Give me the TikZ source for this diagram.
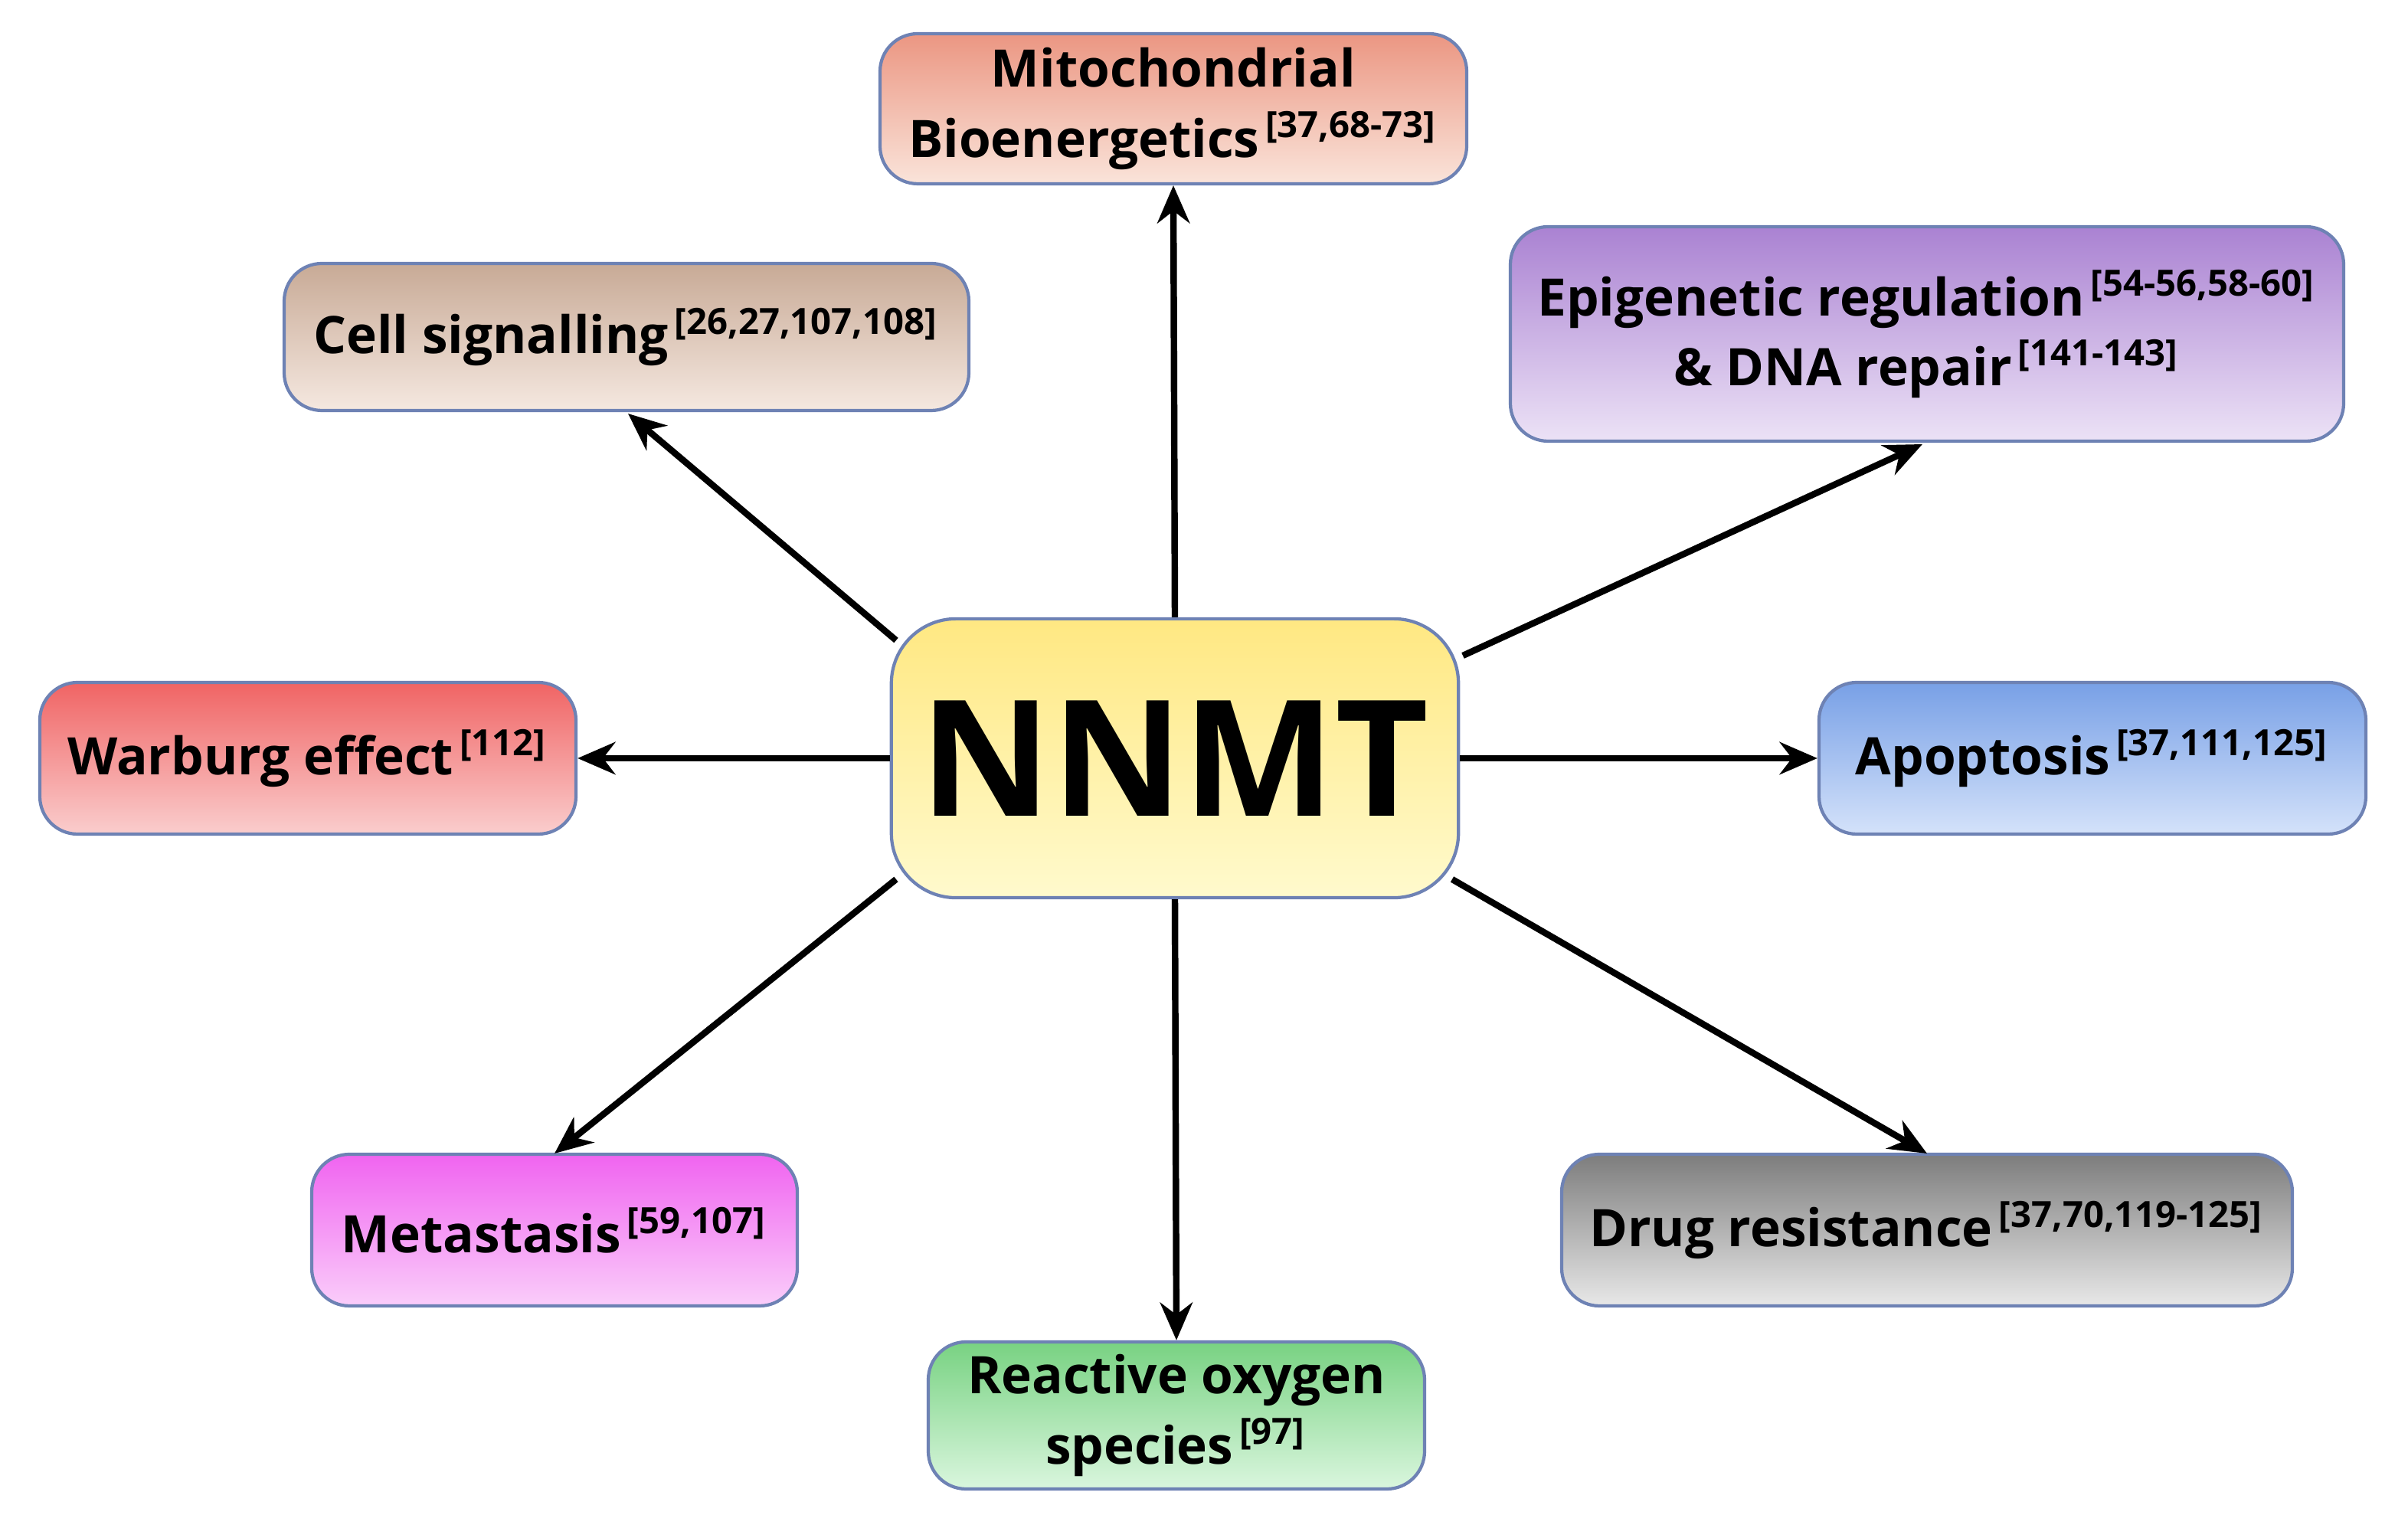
\documentclass[tikz,border=0pt]{standalone}
\usepackage{fontspec}
\setmainfont{Open Sans}
\usetikzlibrary{arrows.meta}
\newcommand{\rf}[1]{\textsuperscript{\,#1}}
\begin{document}
\begin{tikzpicture}[x=0.01cm,y=-0.01cm,
 box/.style={draw={rgb,255:red,110;green,130;blue,180},line width=0.6pt,rounded corners=7pt,align=center,font=\bfseries\fontsize{9.6}{13}\selectfont,inner sep=0pt},
 arr/.style={line width=1.2pt,-{Stealth[length=7pt,width=6pt]}}]
\useasboundingbox (0,0) rectangle (1572,1004);
\newcommand{\bx}[9]{\node[box,minimum width=#3*0.01cm,minimum height=#4*0.01cm,top color={rgb,255:red,#5},bottom color={rgb,255:red,#6}] (#7) at (#1,#2) {#8};}
\bx{766}{71}{383}{98}{235;green,150;blue,130}{250;green,228;blue,218}{mito}{Mitochondrial\\Bioenergetics\rf{[37,68-73]}}{}
\bx{409}{220}{447}{96}{200;green,170;blue,150}{245;green,232;blue,224}{cell}{Cell signalling\rf{[26,27,107,108]}}{}
\bx{1258}{218}{544}{140}{170;green,130;blue,210}{236;green,226;blue,246}{epi}{Epigenetic regulation\rf{[54-56,58-60]}\\\& DNA repair\rf{[141-143]}}{}
\bx{201}{495}{350}{99}{240;green,100;blue,100}{250;green,205;blue,205}{war}{Warburg effect\rf{[112]}}{}
\bx{1366}{495}{357}{99}{120;green,160;blue,230}{212;green,226;blue,250}{apo}{Apoptosis\rf{[37,111,125]}}{}
\bx{362}{803}{317}{99}{240;green,100;blue,240}{250;green,205;blue,250}{met}{Metastasis\rf{[59,107]}}{}
\bx{768}{924}{324}{96}{120;green,210;blue,130}{218;green,246;blue,222}{ros}{Reactive oxygen\\species\rf{[97]}}{}
\bx{1258}{803}{477}{99}{125;green,125;blue,125}{232;green,232;blue,232}{drug}{Drug resistance\rf{[37,70,119-125]}}{}
\node[box,rounded corners=12pt,minimum width=3.7cm,minimum height=1.82cm,top color={rgb,255:red,255;green,232;blue,130},bottom color={rgb,255:red,255;green,250;blue,205},font=\bfseries\fontsize{30}{36}\selectfont] (n) at (767,495) {NNMT};
\draw[arr] (n.north) -- (mito.south);
\draw[arr] (585,418) -- (410,270);
\draw[arr] (955,428) -- (1255,290);
\draw[arr] (n.west) -- (war.east);
\draw[arr] (n.east) -- (apo.west);
\draw[arr] (585,574) -- (362,753);
\draw[arr] (n.south) -- (ros.north);
\draw[arr] (948,574) -- (1258,753);
\end{tikzpicture}
\end{document}
